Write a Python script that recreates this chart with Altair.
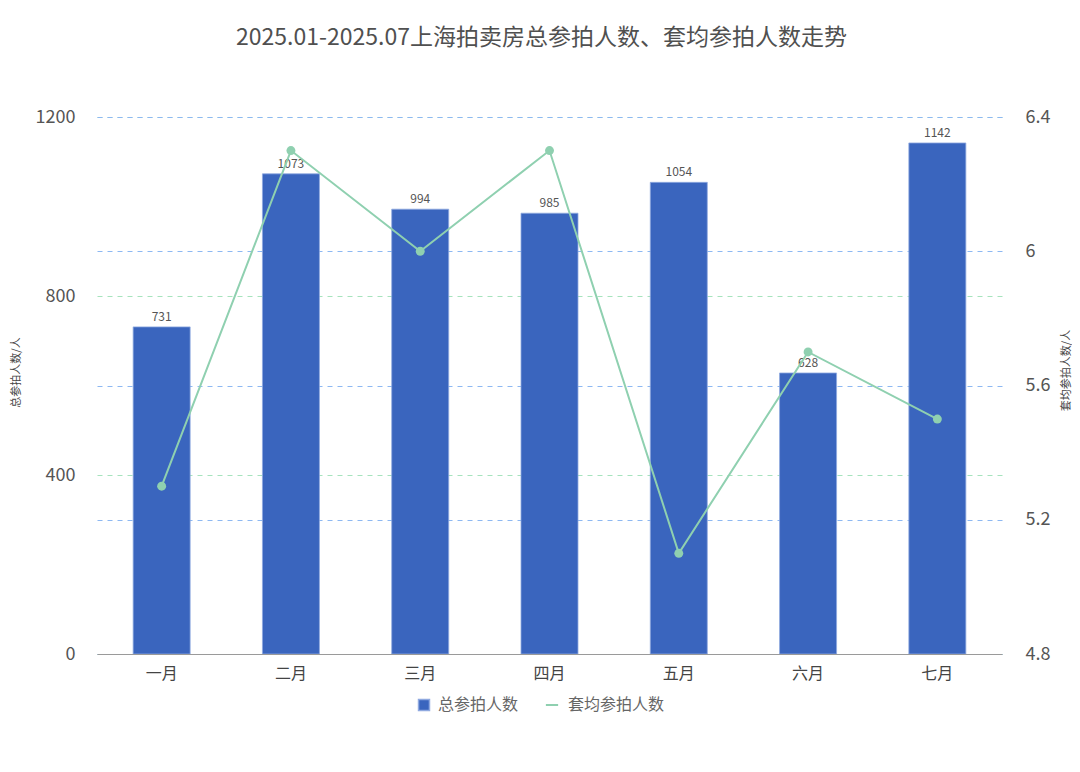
import altair as alt
import pandas as pd

months = ["一月", "二月", "三月", "四月", "五月", "六月", "七月"]
total_bidders = [731, 1073, 994, 985, 1054, 628, 1142]
avg_bidders = [5.3, 6.3, 6.0, 6.3, 5.1, 5.7, 5.5]
left_ticks = [0, 400, 800, 1200]
right_ticks = [4.8, 5.2, 5.6, 6.0, 6.4]

FONT = "Noto Sans CJK SC"

df = pd.DataFrame({
    "month": months,
    "total": total_bidders,
    "avg": avg_bidders,
    "s1": "总参拍人数",
    "s2": "套均参拍人数",
})

x_enc = alt.X(
    "month:N", sort=months, title=None,
    scale=alt.Scale(paddingInner=0.0, paddingOuter=0.0),
    axis=alt.Axis(labelAngle=0, labelFontSize=16, labelColor="#444444", labelFont=FONT,
                  labelPadding=11, ticks=False, domainColor="#9a9a9a", domainWidth=1,
                  grid=False, zindex=1),
)

base = alt.Chart(df)

bars = base.mark_bar(size=57, stroke="#8fa9e0", strokeWidth=0.8).encode(
    x=x_enc,
    y=alt.Y("total:Q", scale=alt.Scale(domain=[0, 1200], nice=False),
            axis=alt.Axis(values=left_ticks, format="d", title="总参拍人数/人", titleFont=FONT,
                          titleFontSize=11, titleFontWeight="normal", titleColor="#444444",
                          titleAngle=270, titleX=-81, titleY=255, titleAlign="center",
                          titleBaseline="middle",
                          labelFontSize=18, labelColor="#555555", labelFont=FONT,
                          labelPadding=22, ticks=False, domain=False, grid=True,
                          gridColor="#a6e3bd", gridDash=[5, 5], gridWidth=1)),
    color=alt.Color("s1:N", scale=alt.Scale(range=["#3a65be"]),
                    legend=alt.Legend(orient="none", legendX=319, legendY=580, title=None,
                                      symbolType="square", symbolSize=120,
                                      labelFontSize=16, labelColor="#666666", labelFont=FONT,
                                      labelOffset=6)),
)

labels = base.mark_text(baseline="bottom", dy=-3, fontSize=12, color="#555555", font=FONT).encode(
    x=alt.X("month:N", sort=months),
    y=alt.Y("total:Q"),
    text=alt.Text("total:Q"),
)

left = alt.layer(bars, labels)

line = base.mark_line(strokeWidth=2).encode(
    x=alt.X("month:N", sort=months),
    y=alt.Y("avg:Q", scale=alt.Scale(domain=[4.8, 6.4], nice=False, zero=False),
            axis=alt.Axis(orient="right", values=right_ticks, format=".1~f",
                          title="套均参拍人数/人", titleFont=FONT, titleFontSize=11,
                          titleFontWeight="normal", titleColor="#444444",
                          titleAngle=270, titleX=64, titleY=253, titleAlign="center",
                          titleBaseline="middle",
                          labelFontSize=18, labelColor="#555555", labelFont=FONT,
                          labelPadding=23, ticks=False, domain=False, grid=True,
                          gridColor="#8db8f2", gridDash=[5, 5], gridWidth=1)),
    color=alt.Color("s2:N", scale=alt.Scale(range=["#8fd0b0"]),
                    legend=alt.Legend(orient="none", legendX=447, legendY=580, title=None,
                                      symbolType="stroke", symbolStrokeWidth=2, symbolSize=150,
                                      labelFontSize=16, labelColor="#666666", labelFont=FONT,
                                      labelOffset=8)),
)

points = base.mark_circle(size=80, opacity=1, color="#8fd0b0").encode(
    x=alt.X("month:N", sort=months),
    y=alt.Y("avg:Q"),
)

right = alt.layer(line, points)

chart = alt.layer(left, right).resolve_scale(
    y="independent", color="independent"
).properties(
    width=905,
    height=537,
    padding={"left": 89, "top": 109, "right": 70, "bottom": 110},
    autosize=alt.AutoSizeParams(type="none"),
    view=alt.ViewBackground(stroke="transparent", strokeWidth=0),
    title=alt.TitleParams(
        "2025.01-2025.07上海拍卖房总参拍人数、套均参拍人数走势",
        anchor="middle", font=FONT, fontSize=23, fontWeight="normal",
        color="#505050", offset=58, dx=-8,
    ),
).configure_view(strokeWidth=0, stroke="transparent").configure_axisY(
    domain=False
).configure(background="white")

chart.save("out.html", embed_options={"renderer": "svg", "actions": False})
